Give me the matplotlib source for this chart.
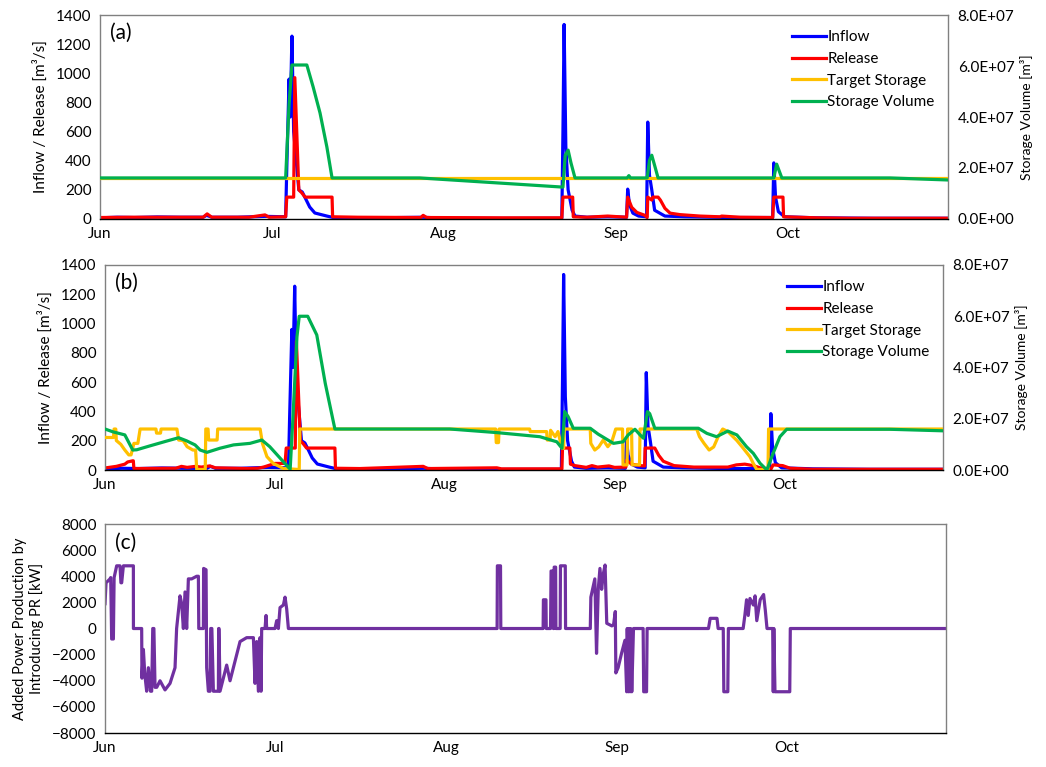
import matplotlib
matplotlib.use("Agg")
import matplotlib.pyplot as plt
from matplotlib.ticker import FuncFormatter

plt.rcParams['font.family'] = ['Lato', 'DejaVu Sans']

# x in days from 1 Jun, month labels every 30 days (as in the original sheet)
month_ticks = [0, 30, 60, 90, 120]
month_labels = ['Jun', 'Jul', 'Aug', 'Sep', 'Oct']
x_end = 148

# inflow, same in (a) and (b)  [m3/s]
inflow_day = [0, 3, 6, 10, 14, 18, 18.6, 19.5, 24, 28.8, 32.4, 32.6, 33.0, 33.2, 33.5, 33.8,
              34.7, 35.3, 36.0, 36.6, 37.5, 39.6, 40.7, 45, 56.4, 60, 70, 80.6, 80.8, 81.0,
              81.3, 81.7, 82.4, 82.9, 85, 88.6, 91.9, 92.1, 92.4, 93.0, 94, 95.4, 95.6, 95.9,
              96.3, 96.8, 98.6, 102, 110, 117.4, 117.6, 117.9, 118.4, 119.5, 125, 135, 148]
inflow_val = [8, 12, 10, 14, 12, 12, 25, 12, 12, 18, 15, 350, 960, 700, 1255, 600,
              200, 185, 130, 82, 41, 20, 10, 6, 12, 5, 4, 5, 600, 1335,
              500, 200, 60, 20, 12, 15, 12, 205, 100, 40, 20, 15, 665, 300,
              200, 60, 20, 15, 10, 10, 385, 150, 50, 15, 8, 5, 5]

# (a) release
rel_a_day = [0, 5, 10, 18, 18.7, 19.5, 26, 28.8, 29.5, 32.4, 32.6, 33.8, 34.0, 34.7, 35.2,
             35.8, 40.5, 40.6, 45, 56.0, 56.4, 57, 70, 80.6, 80.8, 82.5, 82.6, 85, 88.6, 91.9,
             92.1, 92.8, 93.7, 95.1, 95.5, 95.6, 96.3, 96.5, 97.4, 97.8, 98.6, 99.5, 101.2,
             104.7, 108.2, 108.5, 111.7, 117.4, 117.6, 119.2, 119.3, 125, 131, 148]
rel_a_val = [10, 12, 12, 12, 35, 12, 12, 28, 12, 15, 150, 150, 970, 200, 180,
             150, 150, 15, 12, 10, 25, 10, 8, 8, 150, 150, 15, 12, 20, 12,
             150, 80, 45, 25, 10, 150, 130, 150, 150, 130, 73, 40, 30,
             20, 15, 20, 12, 10, 150, 150, 15, 8, 5, 5]

# (a) storage [m3]
sto_a_day = [0, 32.4, 33.0, 33.5, 36.1, 37.2, 38.4, 39.6, 40.5, 55.8, 80.8, 81.2, 81.7,
             82.2, 82.9, 92.0, 92.3, 92.6, 95.5, 95.9, 96.3, 96.8, 97.4, 117.6, 118.1,
             119.0, 137.9, 148]
sto_a_val = [1.61e7, 1.61e7, 4.5e7, 6.04e7, 6.04e7, 5.18e7, 4.16e7, 2.82e7, 1.61e7, 1.61e7,
             1.25e7, 2.5e7, 2.7e7, 2.2e7, 1.61e7, 1.61e7, 1.7e7, 1.61e7, 1.61e7, 2.3e7,
             2.5e7, 2.1e7, 1.61e7, 1.61e7, 2.15e7, 1.61e7, 1.61e7, 1.53e7]

tgt_a_day = [0, 148]
tgt_a_val = [1.61e7, 1.61e7]

# (b) release
rel_b_day = [0, 2, 3.5, 4.0, 4.9, 5.0, 5.1, 12.5, 13.5, 14.5, 16.0, 17.0, 18.5, 19.5, 25,
             27.0, 28.0, 30.0, 31.8, 32.0, 33.6, 33.8, 34.5, 35.0, 35.6, 40.6, 40.7, 45,
             56.2, 57, 69.2, 70, 80.7, 80.8, 82.1, 82.2, 83, 85, 86, 87, 89, 90, 92.0, 92.1,
             93.0, 94.5, 95.3, 95.4, 97.1, 97.8, 98.6, 100.5, 104, 110, 111.5, 113, 114.5,
             116.5, 117.6, 118.0, 119.7, 121, 125, 148]
rel_b_val = [14, 25, 40, 55, 63, 63, 10, 12, 25, 18, 25, 20, 28, 15, 10,
             12, 20, 45, 45, 150, 150, 880, 200, 180, 150, 150, 12, 10,
             25, 10, 15, 8, 8, 150, 150, 40, 30, 18, 30, 20, 28, 18, 20, 68,
             40, 30, 28, 150, 150, 100, 60, 30, 20, 20, 35, 40, 30,
             5, 5, 35, 30, 12, 5, 5]

# (b) storage [m3]
sto_b_day = [0, 1.4, 3.5, 4.9, 5.6, 7.9, 10.9, 13.0, 14.4, 15.9, 16.8, 18.0, 20.3, 22.7,
             25.6, 27.7, 29.1, 30.9, 32.7, 33.2, 33.9, 34.3, 35.8, 37.4, 38.9, 40.6, 60.9,
             69.2, 76.8, 79.8, 80.7, 81.2, 81.8, 82.7, 85.7, 87.1, 88.3, 89.8, 91.5, 92.4,
             93.6, 94.5, 95.1, 95.8, 96.2, 97.1, 104.8, 106.3, 108.0, 110.0, 111.6, 113.3,
             114.5, 115.7, 116.9, 118.0, 119.2, 120.4, 138.6, 148]
sto_b_val = [1.6e7, 1.49e7, 1.37e7, 7.8e6, 7.9e6, 9.4e6, 1.13e7, 1.26e7, 1.14e7, 9.8e6,
             7.8e6, 6.9e6, 8.5e6, 9.8e6, 1.04e7, 1.17e7, 9.1e6, 4.7e6, 3e5, 2.08e7,
             5.2e7, 6.0e7, 6.0e7, 5.27e7, 3.38e7, 1.6e7, 1.6e7, 1.46e7, 1.3e7, 1.1e7,
             8.5e6, 2.28e7, 2.08e7, 1.63e7, 1.63e7, 1.4e7, 1.24e7, 1.04e7, 1.1e7, 1.37e7,
             1.59e7, 1.37e7, 1.24e7, 2.28e7, 2.2e7, 1.63e7, 1.63e7, 1.43e7, 1.3e7, 1.52e7,
             1.37e7, 9.1e6, 6.5e6, 2.6e6, 0, 6.5e6, 1.3e7, 1.59e7, 1.59e7, 1.53e7]

# (b) target storage [m3]
tgt_b_day = [0, 1.5, 1.6, 1.9, 2.0, 2.8, 3.5, 4.2, 4.6, 5.1, 5.8, 6.2, 9.0, 9.1, 9.8, 9.9,
             12.7, 13.0, 13.8, 14.5, 15.5, 16.0, 16.2, 17.7, 17.8, 18.2, 18.3, 19.8, 19.9,
             27.4, 27.8, 28.6, 29.7, 31.5, 34.3, 34.4, 69.0, 69.1, 69.5, 69.6, 75.0, 75.1,
             78.0, 78.1, 78.6, 78.7, 79.5, 80.0, 80.7, 81.0, 81.1, 85.7, 85.8, 86.5, 87.2,
             88.0, 88.8, 89.5, 90.2, 91.4, 91.5, 92.2, 92.3, 93.0, 93.1, 94.4, 94.5, 104.5,
             105.0, 105.8, 106.7, 107.5, 108.3, 109.1, 110.0, 111.6, 112.5, 113.9, 114.5,
             115.1, 117.1, 117.2, 148]
tgt_b_val = [1.27e7, 1.27e7, 1.6e7, 1.6e7, 1.15e7, 1.0e7, 7.8e6, 5.9e6, 5.9e6, 1.04e7,
             1.04e7, 1.6e7, 1.6e7, 1.44e7, 1.44e7, 1.6e7,
             1.6e7, 1.17e7, 1.15e7, 9.1e6, 7.8e6, 7.8e6, 2e5, 2e5, 1.6e7, 1.6e7, 1.17e7,
             1.17e7, 1.6e7,
             1.6e7, 1.04e7, 5.2e6, 2.6e6, 6e5, 2e5, 1.6e7, 1.6e7, 1.07e7, 1.07e7, 1.6e7,
             1.6e7, 1.5e7,
             1.5e7, 1.17e7, 1.17e7, 1.55e7, 1.3e7, 1.5e7, 8.5e6, 8.5e6, 1.6e7, 1.6e7,
             1.04e7, 7.8e6, 9e6,
             1.17e7, 9.1e6, 1.1e7, 1.6e7, 1.6e7, 2e6, 2e6, 1.6e7, 1.6e7, 2e6, 2e6, 1.6e7,
             1.6e7,
             1.3e7, 1.04e7, 7.8e6, 9e6, 1.3e7, 1.6e7, 1.5e7, 1.15e7, 9.1e6, 5.2e6, 2.6e6,
             2e5, 2e5, 1.6e7, 1.6e7]

# (c) added power production [kW]
pw_day = [0, 0.18, 0.88, 1.0, 1.17, 1.47, 1.6, 2.05, 2.64, 2.8, 2.93, 3.23, 4.99, 5.0, 6.45,
          6.5, 6.75, 7.0, 7.33, 7.63, 8.0, 8.21, 8.4, 8.6, 8.8, 9.1, 9.68, 10.56, 11.44,
          12.32, 12.6, 13.2, 13.49, 13.79, 14.08, 14.37, 14.67, 15.25, 16.13, 16.43, 16.5,
          17.31, 17.35, 17.78, 17.89, 18.19, 18.48, 18.6, 18.8, 19.07, 19.95, 20.0, 20.06,
          20.24, 20.83, 21.41, 22.0, 22.59, 23.17, 23.76, 24.93, 26.11, 26.4, 26.69, 26.99,
          27.28, 27.46, 27.57, 28.16, 28.34, 28.45, 29.92, 30.21, 30.51, 30.8, 31.39, 31.68,
          31.97, 32.27,
          69.0, 69.05, 69.6, 69.65, 77.1, 77.15, 77.6, 77.65, 78.4, 78.5, 78.8, 78.9, 79.0,
          79.05, 79.3, 79.35, 80.1, 80.15, 81.0, 81.05,
          85.4, 85.5, 85.9, 86.2, 86.5, 86.8, 87.1, 87.4, 87.7, 88.0, 88.3, 89.2, 89.5, 89.8,
          89.9, 90.3, 90.9, 91.5, 91.8, 91.9, 92.1, 92.2, 92.4, 92.5, 92.7, 93.0, 94.7, 94.8,
          95.3, 95.4,
          106.2, 106.5, 107.1, 107.7, 107.9, 108.8, 108.9, 109.6, 109.7, 112.3, 112.6,
          112.9, 113.2, 113.5, 114.1, 114.4, 114.7, 115.3, 115.9, 116.2, 116.5, 117.5,
          117.6, 117.7, 117.9, 118.0, 120.5, 120.6, 148]
pw_val = [1900, 3500, 3800, 3900, -800, -800, 3900, 4800, 4800, 3500, 3500, 4800, 4800, 0, 0,
          -3800, -1600, -3500, -4800, -3000, -4800, -4800, 0, 0, -4500, -4500, -4000, -4700,
          -4200, -3000, 0, 2500, 1900, 0, 2800, 0, 3800, 3800, 4000, 4000, 0,
          0, 4600, 4500, -3000, -4800, -4800, 0, 0, -4800, -4800, 0, 0,
          -4800, -3800, -2800, -4000, -3000, -2000, -1000, -700, -700, -4200, -1000, -4800,
          -700, -4800, 0, 0, 1000, 0, 0, 600, 0, 1600, 1800, 2400,
          1500, 0,
          0, 4800, 4800, 0, 0, 2200, 2200, 0, 0, 4400, 4400, 0, 0,
          4700, 4700, 0, 0, 4800, 4800, 0,
          0, 2400, 3200, 3800, -1900, 3000, 4600, 3000, 4200, 4860, 400, 200, 300, 1300,
          -3400, -3000, -1900, -900, -4840, 0, -4840, 0, -4840, 0, -4840, 0, 0, -4840,
          -4840, 0,
          0, 780, 780, 780, 0, 0, -4840, -4840, 0, 0, 1000,
          2200, 1000, 2300, 1800, 2500, 600, 2200, 2600, 1400, 0, 0,
          -4840, 0, -4840, -4840, -4840, 0, 0]

C_IN = '#0000FF'
C_REL = '#FF0000'
C_TGT = '#FFC000'
C_STO = '#00B050'
C_PW = '#7030A0'
LW = 2.3

fig = plt.figure(figsize=(10.46, 7.67), dpi=100)
ax_a = fig.add_axes([0.0956, 0.7145, 0.8107, 0.2659])
ax_b = fig.add_axes([0.1004, 0.3872, 0.8011, 0.2673])
ax_c = fig.add_axes([0.1004, 0.0443, 0.8040, 0.2725])


def sci_fmt(v, pos):
    m, e = ('%.1E' % v).split('E')
    return '%sE+%02d' % (m, int(e))


def style_axes(ax):
    for s in ['top', 'right', 'left']:
        ax.spines[s].set_color('#808080')
        ax.spines[s].set_linewidth(1.0)
    ax.spines['bottom'].set_color('black')
    ax.spines['bottom'].set_linewidth(1.0)
    ax.tick_params(length=0, labelsize=11, pad=6)
    ax.set_xlim(0, x_end)
    ax.set_xticks(month_ticks)
    ax.set_xticklabels(month_labels)


def flow_panel(ax, rel_day, rel_val, tgt_day, tgt_val, sto_day, sto_val, tag):
    style_axes(ax)
    l1, = ax.plot(inflow_day, inflow_val, color=C_IN, lw=LW, label='Inflow')
    l2, = ax.plot(rel_day, rel_val, color=C_REL, lw=LW, label='Release')
    ax.set_ylim(0, 1400)
    ax.set_yticks(range(0, 1401, 200))
    ax.set_ylabel('Inflow / Release [m³/s]', fontsize=11, labelpad=6)
    ax.text(0.012, 0.96, tag, transform=ax.transAxes, fontsize=15, va='top')
    ax2 = ax.twinx()
    ax2.set_xlim(0, x_end)
    for s in ax2.spines.values():
        s.set_visible(False)
    l3, = ax2.plot(tgt_day, tgt_val, color=C_TGT, lw=LW, label='Target Storage')
    l4, = ax2.plot(sto_day, sto_val, color=C_STO, lw=LW, label='Storage Volume')
    ax2.set_ylim(0, 8e7)
    ax2.set_yticks([0, 2e7, 4e7, 6e7, 8e7])
    ax2.yaxis.set_major_formatter(FuncFormatter(sci_fmt))
    ax2.tick_params(length=0, labelsize=11, pad=7)
    ax2.set_ylabel('Storage Volume [m³]', fontsize=10, labelpad=4)
    ax2.legend(handles=[l1, l2, l3, l4], loc='upper right', bbox_to_anchor=(0.995, 0.97),
               frameon=False, fontsize=11, handlelength=2.2, handletextpad=0.1,
               labelspacing=0.5, borderaxespad=0.2)


flow_panel(ax_a, rel_a_day, rel_a_val, tgt_a_day, tgt_a_val, sto_a_day, sto_a_val, '(a)')
flow_panel(ax_b, rel_b_day, rel_b_val, tgt_b_day, tgt_b_val, sto_b_day, sto_b_val, '(b)')

style_axes(ax_c)
ax_c.plot(pw_day, pw_val, color=C_PW, lw=LW)
ax_c.set_ylim(-8000, 8000)
ax_c.set_yticks(range(-8000, 8001, 2000))
ax_c.set_ylabel('Added Power Production by\nIntroducing PR [kW]', fontsize=10.5,
                labelpad=6, linespacing=1.2)
ax_c.text(0.012, 0.96, '(c)', transform=ax_c.transAxes, fontsize=15, va='top')

fig.savefig('out.png', dpi=100)
